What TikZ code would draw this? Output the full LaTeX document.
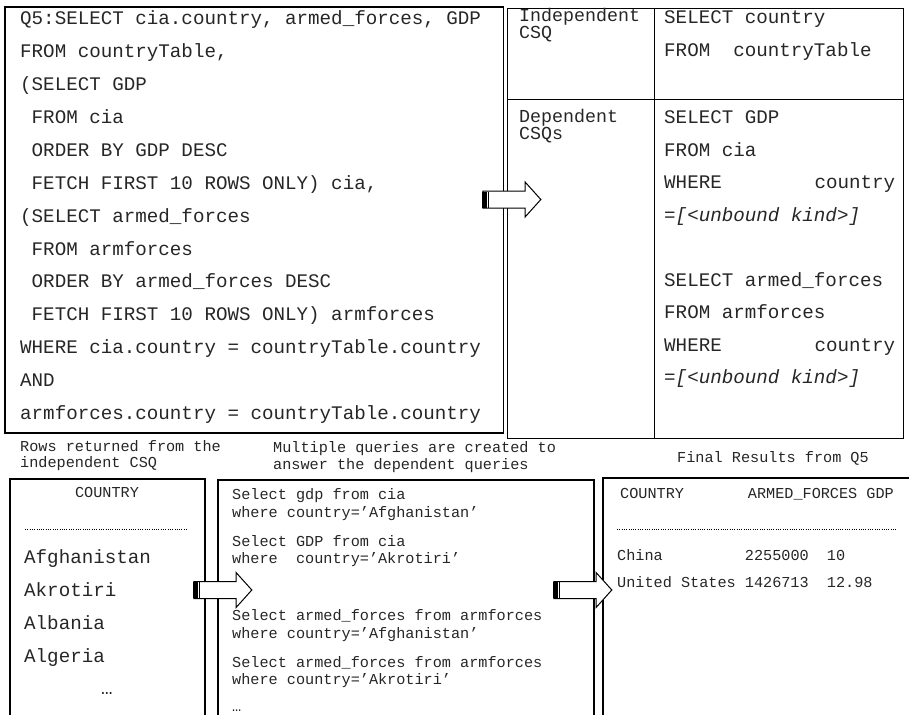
\documentclass[tikz,border=0pt]{standalone}
\usepackage{fontspec}
\usepackage{tikz}
\usetikzlibrary{shapes}
\usetikzlibrary{shapes.arrows}
\usetikzlibrary{calc}
\newfontfamily\sqlfont{Liberation Mono}
\newcommand\monosize[2]{\sqlfont\fontsize{#1}{#2}\selectfont}
\newcommand\ind{\hphantom{X}}
\newcommand\wherecountry{\makebox[231pt][l]{WHERE\hfill country}}
\newcommand\unbound{=\textit{[<unbound kind>]}}
\frenchspacing
\tikzset{
  mono_text/.style = {inner sep=0pt, anchor=base west, text=black!85},
  block_text/.style = {mono_text, text width=#1, align=flush left},% several lines
  heavy_box/.style = {draw=black, line width=1.8pt, anchor=north west,
    inner sep=0pt},% query and result frames
  light_box/.style = {draw=black, line width=0.8pt, anchor=north west,
    inner sep=0pt},% csq table
  light_rule/.style = {black, line width=0.8pt},
  dot_rule/.style = {black, line width=1pt, dash pattern=on 1pt off 1.3pt},
  block_arrow/.style = {single arrow, draw=black, fill=white, line width=1pt,
    minimum height=58pt, inner xsep=0pt, inner ysep=8pt,
    single arrow head extend=9pt, single arrow tip angle=96}% striped arrow
}

\begin{document}
\begin{tikzpicture}[x=1pt, y=-1pt]
  \useasboundingbox (0,0) rectangle (909,714);
  \clip (0,0) rectangle (909,714);

  % frames
  \node [heavy_box, minimum width=498.5pt, minimum height=426pt] (query_box) at (4,6) {};
  \node [light_box, minimum width=396pt, minimum height=430pt] (csq_table) at (507,8) {};
  \draw [light_rule] (654,8) -- (654,438);
  \draw [light_rule] (507,99) -- (903,99);
  \node [heavy_box, minimum width=195pt, minimum height=260pt] (rows_box) at (9,478) {};
  \node [heavy_box, minimum width=376pt, minimum height=260pt] (queries_box) at (217,479) {};
  \node [heavy_box, minimum width=340pt, minimum height=260pt] (result_box) at (602,477) {};

  % Q5
  \node [block_text=490pt, font=\monosize{19.2}{32.9}] (q5_sql) at (20,24.8)
    {Q5:SELECT cia.country, armed\_forces, GDP\\
     FROM countryTable,\\
     (SELECT GDP\\
     \ind FROM cia\\
     \ind ORDER BY GDP DESC\\
     \ind FETCH FIRST 10 ROWS ONLY) cia,\\
     (SELECT armed\_forces\\
     \ind FROM armforces\\
     \ind ORDER BY armed\_forces DESC\\
     \ind FETCH FIRST 10 ROWS ONLY) armforces\\
     WHERE cia.country = countryTable.country\\
     AND\\
     armforces.country = countryTable.country};

  % csq table
  \node [block_text=130pt, font=\monosize{18.3}{16.5}] (indep_label) at (519,21.6) {Independent\\CSQ};
  \node [block_text=130pt, font=\monosize{18.3}{16.5}] (dep_label) at (519,122.6) {Dependent\\CSQs};
  \node [block_text=235pt, font=\monosize{19.2}{33}] (indep_sql) at (664,23.8)
    {SELECT country\\FROM\ \ countryTable};
  \node [block_text=235pt, font=\monosize{19.2}{32.5}] (dep_sql) at (664,123.8)
    {SELECT GDP\\
     FROM cia\\
     \wherecountry\\
     \unbound\\[32.5pt]
     SELECT armed\_forces\\
     FROM armforces\\
     \wherecountry\\
     \unbound};

  % captions
  \node [block_text=220pt, font=\monosize{15.2}{16}] (rows_caption) at (20,451.6)
    {Rows returned from the\\independent CSQ};
  \node [block_text=300pt, font=\monosize{15.2}{17}] (queries_caption) at (273,452.6)
    {Multiple queries are created to\\answer the dependent queries};
  \node [mono_text, font=\monosize{15.2}{17}] (result_caption) at (677,462.6) {Final Results from Q5};

  % rows of the independent csq
  \node [mono_text, anchor=base, font=\monosize{15.2}{17}] (rows_head) at (107,497.6) {COUNTRY};
  \draw [dot_rule] (25,529) -- (187,529);
  \node [block_text=175pt, font=\monosize{19.2}{33}] (rows_list) at (24,563.8)
    {Afghanistan\\Akrotiri\\Albania\\Algeria};
  \node [mono_text, anchor=base, font=\monosize{19.2}{33}] (rows_more) at (107,694.5) {…};

  % dependent queries
  \node [block_text=360pt, font=\monosize{15.2}{17.5}] (dep_queries) at (232,499.6)
    {Select gdp from cia\\
     where country=’Afghanistan’\\[11.5pt]
     Select GDP from cia\\
     where\ \ country=’Akrotiri’\\[39.5pt]
     Select armed\_forces from armforces\\
     where country=’Afghanistan’\\[11.5pt]
     Select armed\_forces from armforces\\
     where country=’Akrotiri’\\[9pt]
     …};

  % final result
  \node [mono_text, font=\monosize{15.2}{17}] (result_head) at (620,498.6)
    {COUNTRY\ \ \ \ \ \ \ ARMED\_FORCES GDP};
  \draw [dot_rule] (617,529) -- (896,529);
  \node [block_text=285pt, font=\monosize{15.2}{27}] (result_rows) at (617,560.6)
    {China\ \ \ \ \ \ \ \ \ 2255000\ \ 10\\United States 1426713\ \ 12.98};

  % arrows
  \node [block_arrow] (arrow_csq) at (508,199.5) {};
  \fill ($(arrow_csq.tail)+(0,-8)$) rectangle ++(4.5,16);
  \draw [line width=1pt] ($(arrow_csq.tail)+(6.5,-8)$) -- ++(0,16);
  \node [block_arrow] (arrow_rows) at (219,590) {};
  \fill ($(arrow_rows.tail)+(0,-8)$) rectangle ++(4.5,16);
  \draw [line width=1pt] ($(arrow_rows.tail)+(6.5,-8)$) -- ++(0,16);
  \node [block_arrow] (arrow_result) at (579,590) {};
  \fill ($(arrow_result.tail)+(0,-8)$) rectangle ++(4.5,16);
  \draw [line width=1pt] ($(arrow_result.tail)+(6.5,-8)$) -- ++(0,16);
\end{tikzpicture}
\end{document}
